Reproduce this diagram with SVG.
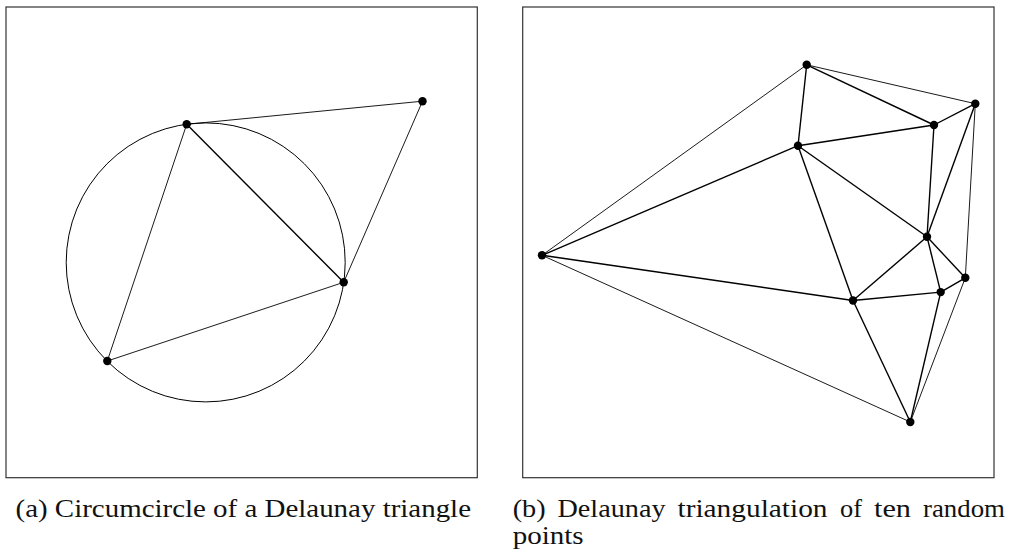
<svg xmlns="http://www.w3.org/2000/svg" width="1014" height="549" viewBox="0 0 1014 549">
<style>
.frame{fill:none;stroke:#333;stroke-width:1.2}
.hull{stroke:#000;stroke-width:0.9;fill:none}
.inner{stroke:#000;stroke-width:1.4;fill:none}
.circ{stroke:#000;stroke-width:1;fill:none}
.pt{fill:#000}
.cap{font-family:"Liberation Serif","DejaVu Serif",serif;font-size:26px;fill:#111}
</style>
<rect width="1014" height="549" fill="#fff"/>
<g id="panel-a">
<rect class="frame" x="6" y="7" width="471.3" height="470.7"/>
<circle id="circumcircle" class="circ" cx="205.7" cy="262.4" r="139.5"/>
<g id="edges-a">
<line class="hull" x1="186.7" y1="124.3" x2="422.5" y2="101.2"/>
<line class="hull" x1="422.5" y1="101.2" x2="343.7" y2="282.3"/>
<line class="inner" x1="186.7" y1="124.3" x2="343.7" y2="282.3"/>
<line class="hull" x1="186.7" y1="124.3" x2="107.3" y2="361"/>
<line class="hull" x1="107.3" y1="361" x2="343.7" y2="282.3"/>
</g>
<g id="a-p1"><circle class="pt" cx="186.7" cy="124.3" r="4.2"/></g>
<g id="a-p2"><circle class="pt" cx="422.5" cy="101.2" r="4.2"/></g>
<g id="a-p3"><circle class="pt" cx="343.7" cy="282.3" r="4.2"/></g>
<g id="a-p4"><circle class="pt" cx="107.3" cy="361" r="4.2"/></g>
<text class="cap" x="15.5" y="517" textLength="455.5" lengthAdjust="spacingAndGlyphs">(a) Circumcircle of a Delaunay triangle</text>
</g>
<g id="panel-b">
<rect class="frame" x="522.7" y="7" width="471.3" height="470.7"/>
<g id="edges-b">
<line class="hull" x1="806.7" y1="64.8" x2="542" y2="255.3"/>
<line class="hull" x1="806.7" y1="64.8" x2="975.3" y2="103.7"/>
<line class="hull" x1="975.3" y1="103.7" x2="965.3" y2="277.8"/>
<line class="hull" x1="965.3" y1="277.8" x2="910.3" y2="422"/>
<line class="hull" x1="910.3" y1="422" x2="542" y2="255.3"/>
<line class="inner" x1="806.7" y1="64.8" x2="798" y2="145.7"/>
<line class="inner" x1="806.7" y1="64.8" x2="934" y2="125"/>
<line class="inner" x1="975.3" y1="103.7" x2="934" y2="125"/>
<line class="inner" x1="975.3" y1="103.7" x2="927" y2="236.8"/>
<line class="inner" x1="934" y1="125" x2="798" y2="145.7"/>
<line class="inner" x1="934" y1="125" x2="927" y2="236.8"/>
<line class="inner" x1="798" y1="145.7" x2="542" y2="255.3"/>
<line class="inner" x1="798" y1="145.7" x2="927" y2="236.8"/>
<line class="inner" x1="798" y1="145.7" x2="853" y2="300.5"/>
<line class="inner" x1="542" y1="255.3" x2="853" y2="300.5"/>
<line class="inner" x1="927" y1="236.8" x2="853" y2="300.5"/>
<line class="inner" x1="927" y1="236.8" x2="940.7" y2="292.1"/>
<line class="inner" x1="927" y1="236.8" x2="965.3" y2="277.8"/>
<line class="inner" x1="965.3" y1="277.8" x2="940.7" y2="292.1"/>
<line class="inner" x1="940.7" y1="292.1" x2="853" y2="300.5"/>
<line class="inner" x1="940.7" y1="292.1" x2="910.3" y2="422"/>
<line class="inner" x1="853" y1="300.5" x2="910.3" y2="422"/>
</g>
<g id="b-p1"><circle class="pt" cx="806.7" cy="64.8" r="4.2"/></g>
<g id="b-p2"><circle class="pt" cx="975.3" cy="103.7" r="4.2"/></g>
<g id="b-p3"><circle class="pt" cx="934" cy="125" r="4.2"/></g>
<g id="b-p4"><circle class="pt" cx="798" cy="145.7" r="4.2"/></g>
<g id="b-p5"><circle class="pt" cx="542" cy="255.3" r="4.2"/></g>
<g id="b-p6"><circle class="pt" cx="927" cy="236.8" r="4.2"/></g>
<g id="b-p7"><circle class="pt" cx="965.3" cy="277.8" r="4.2"/></g>
<g id="b-p8"><circle class="pt" cx="940.7" cy="292.1" r="4.2"/></g>
<g id="b-p9"><circle class="pt" cx="853" cy="300.5" r="4.2"/></g>
<g id="b-p10"><circle class="pt" cx="910.3" cy="422" r="4.2"/></g>
<text class="cap" y="517"><tspan x="512.7" textLength="33" lengthAdjust="spacingAndGlyphs">(b)</tspan><tspan x="557.5" textLength="108" lengthAdjust="spacingAndGlyphs">Delaunay</tspan><tspan x="677.5" textLength="150" lengthAdjust="spacingAndGlyphs">triangulation</tspan><tspan x="840" textLength="22" lengthAdjust="spacingAndGlyphs">of</tspan><tspan x="874" textLength="37" lengthAdjust="spacingAndGlyphs">ten</tspan><tspan x="923" textLength="82" lengthAdjust="spacingAndGlyphs">random</tspan></text>
<text class="cap" x="512.7" y="543.5" textLength="71" lengthAdjust="spacingAndGlyphs">points</text>
</g>
</svg>
